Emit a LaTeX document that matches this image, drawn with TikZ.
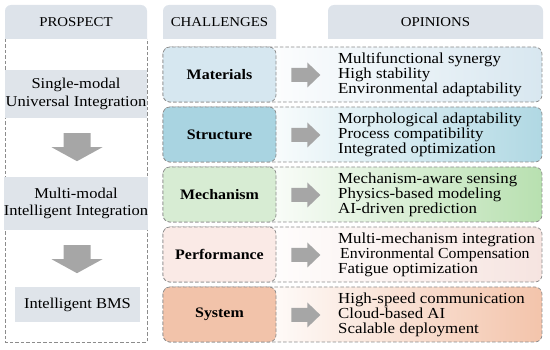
\documentclass[tikz,border=0pt]{standalone}
\usepackage{fontspec}
\setmainfont{Liberation Serif}[FakeStretch=1.1]
\usetikzlibrary{calc}
\definecolor{hdr}{HTML}{DDE3EA}
\definecolor{leftbox}{HTML}{DFE4EA}
\definecolor{dashc}{HTML}{8C8C8C}
\definecolor{arr}{HTML}{A6A6A6}
\definecolor{matI}{HTML}{D6E7F0}\definecolor{matO}{HTML}{D8E7F0}
\definecolor{strI}{HTML}{A9D4E1}\definecolor{strO}{HTML}{B0D8E3}
\definecolor{mecI}{HTML}{D7ECD3}\definecolor{mecO}{HTML}{B8E0B0}
\definecolor{perI}{HTML}{FAEAE6}\definecolor{perO}{HTML}{F6E4E0}
\definecolor{sysI}{HTML}{F2C3AA}\definecolor{sysO}{HTML}{F3C4AB}
\begin{document}
\begin{tikzpicture}[x=1pt,y=-1pt,
  dsh/.style={draw=dashc, dash pattern=on 3.5pt off 2pt, line width=0.7pt},
  hdrtext/.style={font=\fontsize{13.5}{15}\selectfont, inner sep=0pt},
  lbox/.style={fill=leftbox, inner sep=0pt, align=center, font=\fontsize{15}{17.5}\selectfont},
  chbox/.style={dsh, rounded corners=7pt, minimum width=113pt, minimum height=55pt, inner sep=0pt, font=\fontsize{14.5}{15}\selectfont\bfseries},
  optext/.style={anchor=west, align=left, inner sep=0pt, font=\fontsize{15.3}{15}\selectfont},
  downarr/.pic={\fill[arr] (-13.5,0) -- (13.5,0) -- (13.5,14) -- (25.5,14) -- (0,28) -- (-25.5,14) -- (-13.5,14) -- cycle;},
  rightarr/.pic={\fill[arr] (0,-7) -- (16,-7) -- (16,-12.5) -- (29,0) -- (16,12.5) -- (16,7) -- (0,7) -- cycle;}
]
\useasboundingbox (0,0) rectangle (550,350);
% column headers
\fill[hdr] (5,39) [rounded corners=6pt] -- (5,5) -- (147,5) [sharp corners] -- (147,39) -- cycle;
\fill[hdr] (163,39) [rounded corners=6pt] -- (163,5) -- (276,5) [sharp corners] -- (276,39) -- cycle;
\fill[hdr] (328,39) [rounded corners=6pt] -- (328,5) -- (543,5) [sharp corners] -- (543,39) -- cycle;
\node[hdrtext] (hP) at (76,22) {PROSPECT};
\node[hdrtext] (hC) at (219.5,22) {CHALLENGES};
\node[hdrtext] (hO) at (435.5,22) {OPINIONS};
% prospect column
\draw[dsh] (5,39) -- (5,342) -- (147,342) -- (147,39);
\node[lbox, minimum width=142pt, minimum height=48pt] (p1) at (76,94) {Single-modal\\Universal Integration};
\node[lbox, minimum width=142pt, minimum height=53pt] (p2) at (76,203.5) {Multi-modal\\Intelligent Integration};
\node[lbox, minimum width=125pt, minimum height=35pt] (p3) at (77.5,304.5) {Intelligent BMS};
\pic at ($(p1.south)+(1,15)$) {downarr};
\pic at ($(p2.south)+(1,15)$) {downarr};
% rows
\foreach \nm/\lab/\inC/\outC/\cy/\la/\lb/\lc in {
  mat/Materials/matI/matO/74.5/Multifunctional synergy/High stability/Environmental adaptability,
  str/Structure/strI/strO/134.5/Morphological adaptability/Process compatibility/Integrated optimization,
  mec/Mechanism/mecI/mecO/194.5/Mechanism-aware sensing/Physics-based modeling/AI-driven prediction,
  per/Performance/perI/perO/254.5/Multi-mechanism integration/\hspace{2pt}\scalebox{0.94}[1]{Environmental Compensation}/Fatigue optimization,
  sys/System/sysI/sysO/314.5/High-speed communication/Cloud-based AI/Scalable deployment}{
  \begin{scope}
    \clip[rounded corners=7pt] (163,\cy-27.5) rectangle (542,\cy+27.5);
    \shade[left color=white, right color=\outC] (250,\cy-27.5) rectangle (542,\cy+27.5);
  \end{scope}
  \draw[dsh, rounded corners=7pt] (163,\cy-27.5) rectangle (542,\cy+27.5);
  \node[chbox, fill=\inC] (c\nm) at (219.5,\cy) {\lab};
  \node[optext] (o\nm) at (338,\cy) {\la\\\lb\\\lc};
  \pic at ($(c\nm.east)+(15,0.5)$) {rightarr};
}
\end{tikzpicture}
\end{document}
